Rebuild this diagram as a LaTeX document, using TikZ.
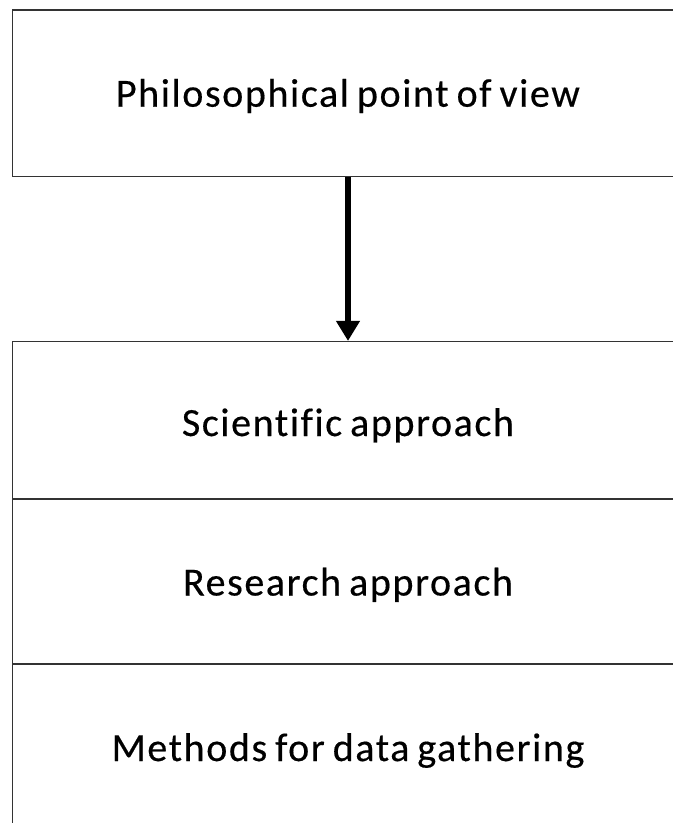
\documentclass[tikz,border=0pt]{standalone}
\usepackage{fontspec}
\setmainfont{Carlito}[Ligatures=NoCommon, LetterSpace=4, WordSpace=0.75, FakeBold=0.4]
\usetikzlibrary{arrows.meta}
\begin{document}
\begin{tikzpicture}[x=0.75pt,y=-0.75pt,
  panel/.style={draw=black!80, line width=1.1pt, fill=white, rectangle,
    minimum width=503.25pt, inner sep=0pt},
  label/.style={font=\fontsize{30}{34}\selectfont, inner sep=0pt, anchor=base},
  flow/.style={line width=3.8pt, -{Triangle[length=15pt,width=17pt]}}]
  \useasboundingbox (0,0) rectangle (673,823);
  \clip (0,0) rectangle (673,823);
  \fill[white] (0,0) rectangle (673,823);
  % view box on top
  \node[panel, minimum height=124.9pt] (view) at (348,93.25) {};
  % stacked levels below
  \node[panel, minimum height=118pt] (sci) at (348,420.35) {};
  \node[panel, minimum height=123.75pt] (res) at (348,581.5) {};
  \node[panel, minimum height=126pt] (meth) at (348,748) {};
  % captions, placed on their baselines
  \node[label] (viewt) at (348,106.7) {Philosophical point of view};
  \node[label] (scit) at (348,436) {Scientific approach};
  \node[label] (rest) at (348,595.5) {Research approach};
  \node[label] (metht) at (348,761) {Methods for data gathering};
  \draw[flow] (view.south) -- (sci.north);
\end{tikzpicture}
\end{document}
